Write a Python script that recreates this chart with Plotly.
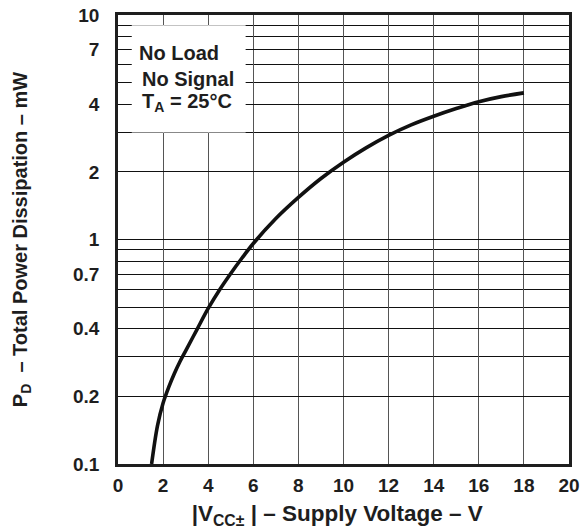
import plotly.graph_objects as go

# Curve data
supply_v = [1.49, 1.75, 2.0, 2.25, 2.5, 2.75, 3.0, 3.5, 4.0, 4.5, 5.0, 5.5, 6.0, 7.0, 8.0, 9.0, 10.0, 11.0, 12.0, 13.0, 14.0, 15.0, 16.0, 17.0, 18.0]
power_mw = [0.10, 0.148, 0.187, 0.220, 0.253, 0.286, 0.319, 0.397, 0.493, 0.596, 0.706, 0.827, 0.960, 1.24, 1.54, 1.87, 2.21, 2.56, 2.91, 3.24, 3.54, 3.83, 4.11, 4.33, 4.50]

x_ticks = [0, 2, 4, 6, 8, 10, 12, 14, 16, 18, 20]
y_ticks = [0.1, 0.2, 0.4, 0.7, 1, 2, 4, 7, 10]
y_tick_labels = ["0.1", "0.2", "0.4", "0.7", "1", "2", "4", "7", "10"]
y_minor_grid = [0.3, 0.5, 0.6, 0.8, 0.9, 3, 5, 6, 8, 9]
note_lines = ["No Load", "No Signal", "T<sub>A</sub> = 25°C"]

FONT = "Liberation Sans, Arial, sans-serif"
INK = "#1e1e1e"

fig = go.Figure()
fig.add_trace(go.Scatter(x=supply_v, y=power_mw, mode="lines",
                         line=dict(color="#111111", width=3.6, shape="spline", smoothing=1.0),
                         hoverinfo="skip", showlegend=False))

# white note box covering the grid
fig.add_shape(type="rect", xref="x", yref="y", x0=0.61, x1=5.66, y0=3, y1=9,
              fillcolor="white", line=dict(width=0), layer="between")
note_x = [0.83, 0.98, 0.98]
note_logy = [0.83, 0.715, 0.61]
for txt, nx, ny in zip(note_lines, note_x, note_logy):
    fig.add_annotation(xref="x", yref="y", x=nx, y=ny, yanchor="middle", xanchor="left",
                       showarrow=False, text=f"<b>{txt}</b>",
                       font=dict(family=FONT, size=20, color=INK))

fig.update_layout(
    width=587, height=529,
    margin=dict(l=118, r=18, t=15, b=65),
    paper_bgcolor="white", plot_bgcolor="white",
    font=dict(family=FONT, color=INK),
)
fig.update_xaxes(range=[0, 20], tickvals=x_ticks, ticktext=[f"<b>{v}</b>" for v in x_ticks],
                 showgrid=True, gridcolor="#555", gridwidth=1,
                 showline=True, linecolor=INK, linewidth=2.5, mirror=True,
                 ticks="", ticklabelstandoff=2, ticklabeloverflow="allow",
                 tickfont=dict(size=19, family=FONT, color=INK),
                 zeroline=False, automargin=False,
                 title=dict(text="<b>|V<sub>CC±</sub> | – Supply Voltage – V&nbsp;&nbsp;</b>",
                            font=dict(size=22.5, family=FONT, color=INK), standoff=11))
fig.update_yaxes(type="log", range=[-1, 1], tickvals=y_ticks,
                 ticktext=[f"<b>{t}</b>" for t in y_tick_labels],
                 showgrid=True, gridcolor="#111", gridwidth=1,
                 minor=dict(tickmode="array", tickvals=y_minor_grid, showgrid=True,
                            gridcolor="#111", gridwidth=1, ticks=""),
                 showline=True, linecolor=INK, linewidth=2.5, mirror=True,
                 ticks="", ticklabelstandoff=12, ticklabeloverflow="allow",
                 tickfont=dict(size=19, family=FONT, color=INK),
                 zeroline=False, automargin=False,
                 title=dict(text="<b>P<sub>D</sub>  – Total Power Dissipation – mW</b>",
                            font=dict(size=20, family=FONT, color=INK), standoff=41))

# remove the default 8px page margin so the figure fills the window exactly
fig.write_html("out.html", config={"displayModeBar": False},
               post_script="document.body.style.margin='0';")
